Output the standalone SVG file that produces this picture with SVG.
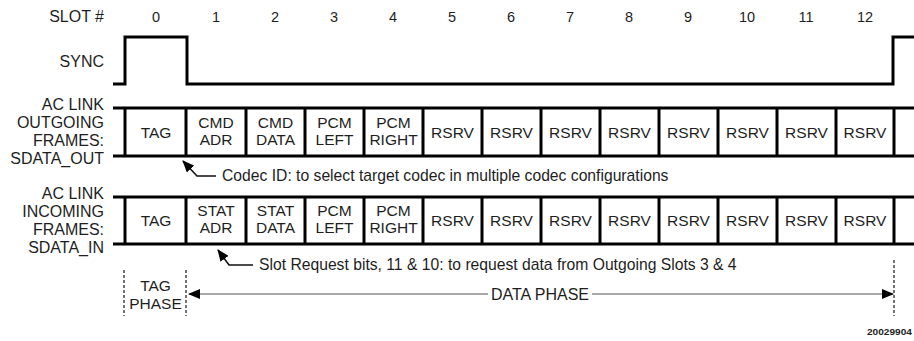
<svg xmlns="http://www.w3.org/2000/svg" width="914" height="341" viewBox="0 0 914 341">
<style>
text{font-family:"Liberation Sans",Arial,sans-serif;fill:#1e1e1e;}
.lbl{font-size:16px;text-anchor:end;}
.cell{font-size:15.5px;text-anchor:middle;}
.num{font-size:14.5px;text-anchor:middle;}
.note{font-size:15.7px;}
.thick{stroke:#000;stroke-width:3;fill:none;}
.lead{stroke:#111;stroke-width:1.6;fill:none;}
.dash{stroke:#444;stroke-width:1.5;stroke-dasharray:3 2;fill:none;}
.phase{stroke:#555;stroke-width:1.2;fill:none;}
</style>
<defs>
<marker id="ah" markerWidth="12" markerHeight="10" refX="11" refY="5" orient="auto" markerUnits="userSpaceOnUse">
<path d="M0,0 L12,5 L0,10 Z" fill="#000"/>
</marker>
</defs>

<g id="slot-numbers">
<text class="lbl" x="104" y="22">SLOT #</text>
<text class="num" x="156" y="22">0</text>
<text class="num" x="216" y="22">1</text>
<text class="num" x="275" y="22">2</text>
<text class="num" x="334" y="22">3</text>
<text class="num" x="393" y="22">4</text>
<text class="num" x="452" y="22">5</text>
<text class="num" x="511" y="22">6</text>
<text class="num" x="570" y="22">7</text>
<text class="num" x="629" y="22">8</text>
<text class="num" x="688" y="22">9</text>
<text class="num" x="747" y="22">10</text>
<text class="num" x="806" y="22">11</text>
<text class="num" x="865" y="22">12</text>
</g>

<g id="sync">
<text class="lbl" x="104" y="67">SYNC</text>
<path class="thick" d="M113,84 H125 V37 H187 V84 H893 V37 H914"/>
</g>

<g id="outgoing">
<text class="lbl" x="104" y="110">AC LINK</text>
<text class="lbl" x="104" y="128">OUTGOING</text>
<text class="lbl" x="104" y="146">FRAMES:</text>
<text class="lbl" x="104" y="164">SDATA_OUT</text>
<path class="thick" d="M113,108 H914 M113,156 H914 M125,108 V156 M186,108 V156 M246,108 V156 M305,108 V156 M364,108 V156 M423,108 V156 M482,108 V156 M541,108 V156 M600,108 V156 M659,108 V156 M718,108 V156 M777,108 V156 M836,108 V156 M894,108 V156"/>
<g id="out-0"><text class="cell" x="156" y="138">TAG</text></g>
<g id="out-1"><text class="cell" x="216" y="128">CMD</text><text class="cell" x="216" y="145">ADR</text></g>
<g id="out-2"><text class="cell" x="275.5" y="128">CMD</text><text class="cell" x="275.5" y="145">DATA</text></g>
<g id="out-3"><text class="cell" x="334.5" y="128">PCM</text><text class="cell" x="334.5" y="145">LEFT</text></g>
<g id="out-4"><text class="cell" x="393.5" y="128">PCM</text><text class="cell" x="393.5" y="145">RIGHT</text></g>
<g id="out-5"><text class="cell" x="452.5" y="138">RSRV</text></g>
<g id="out-6"><text class="cell" x="511.5" y="138">RSRV</text></g>
<g id="out-7"><text class="cell" x="570.5" y="138">RSRV</text></g>
<g id="out-8"><text class="cell" x="629.5" y="138">RSRV</text></g>
<g id="out-9"><text class="cell" x="688.5" y="138">RSRV</text></g>
<g id="out-10"><text class="cell" x="747.5" y="138">RSRV</text></g>
<g id="out-11"><text class="cell" x="806.5" y="138">RSRV</text></g>
<g id="out-12"><text class="cell" x="865" y="138">RSRV</text></g>
</g>

<g id="incoming">
<text class="lbl" x="104" y="199">AC LINK</text>
<text class="lbl" x="104" y="217">INCOMING</text>
<text class="lbl" x="104" y="235">FRAMES:</text>
<text class="lbl" x="104" y="253">SDATA_IN</text>
<path class="thick" d="M113,197 H914 M113,244 H914 M125,197 V244 M186,197 V244 M246,197 V244 M305,197 V244 M364,197 V244 M423,197 V244 M482,197 V244 M541,197 V244 M600,197 V244 M659,197 V244 M718,197 V244 M777,197 V244 M836,197 V244 M894,197 V244"/>
<g id="in-0"><text class="cell" x="156" y="226">TAG</text></g>
<g id="in-1"><text class="cell" x="216" y="216">STAT</text><text class="cell" x="216" y="233">ADR</text></g>
<g id="in-2"><text class="cell" x="275.5" y="216">STAT</text><text class="cell" x="275.5" y="233">DATA</text></g>
<g id="in-3"><text class="cell" x="334.5" y="216">PCM</text><text class="cell" x="334.5" y="233">LEFT</text></g>
<g id="in-4"><text class="cell" x="393.5" y="216">PCM</text><text class="cell" x="393.5" y="233">RIGHT</text></g>
<g id="in-5"><text class="cell" x="452.5" y="226">RSRV</text></g>
<g id="in-6"><text class="cell" x="511.5" y="226">RSRV</text></g>
<g id="in-7"><text class="cell" x="570.5" y="226">RSRV</text></g>
<g id="in-8"><text class="cell" x="629.5" y="226">RSRV</text></g>
<g id="in-9"><text class="cell" x="688.5" y="226">RSRV</text></g>
<g id="in-10"><text class="cell" x="747.5" y="226">RSRV</text></g>
<g id="in-11"><text class="cell" x="806.5" y="226">RSRV</text></g>
<g id="in-12"><text class="cell" x="865" y="226">RSRV</text></g>
</g>

<g id="notes">
<text class="note" x="222" y="181">Codec ID: to select target codec in multiple codec configurations</text>
<text class="note" x="259" y="270">Slot Request bits, 11 &amp; 10: to request data from Outgoing Slots 3 &amp; 4</text>
</g>

<g id="phases">
<text class="cell" x="155.5" y="291">TAG</text>
<text class="cell" x="155.5" y="309">PHASE</text>
<text class="cell" x="540" y="300" style="font-size:16px">DATA PHASE</text>
<path class="dash" d="M124,270 V316 M186,270 V316 M894,260 V316"/>
</g>

<g id="connectors">
<path class="lead" d="M216,176 H197 L183,161" marker-end="url(#ah)"/>
<path class="lead" d="M253,265 H229 L218,250" marker-end="url(#ah)"/>
<path class="phase" d="M488,294 H189" marker-end="url(#ah)"/>
<path class="phase" d="M592,294 H893" marker-end="url(#ah)"/>
</g>

<text x="867" y="335" style="font-size:9px;font-weight:bold;" textLength="45" lengthAdjust="spacingAndGlyphs">20029904</text>
</svg>
